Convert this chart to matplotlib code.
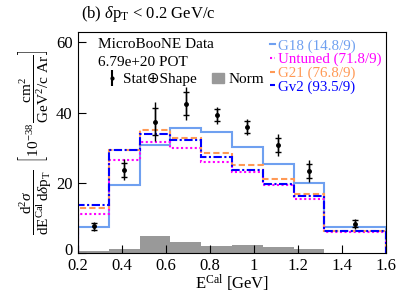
import numpy as np
import matplotlib
matplotlib.use('Agg')
import matplotlib.pyplot as plt
import matplotlib.transforms as mtransforms
from matplotlib.lines import Line2D
from matplotlib.patches import Patch

plt.rcParams['font.family'] = ['Liberation Serif', 'DejaVu Sans']
plt.rcParams['mathtext.fontset'] = 'custom'
plt.rcParams['mathtext.rm'] = 'Liberation Serif'
plt.rcParams['mathtext.it'] = 'Liberation Serif:italic'
plt.rcParams['mathtext.bf'] = 'Liberation Serif:bold'

# bin edges in E^Cal [GeV]
edges = [0.2, 0.34, 0.48, 0.62, 0.76, 0.90, 1.04, 1.18, 1.32, 1.6]

# predictions (10^-38 cm2 / GeV^2/c Ar)
g18 = [7.4, 19.5, 30.8, 35.6, 34.6, 30.3, 25.4, 20.0, 7.3]
untuned = [11.2, 26.4, 31.7, 30.0, 26.0, 23.1, 19.5, 15.5, 5.9]
g21 = [12.9, 29.5, 35.1, 32.9, 28.4, 25.0, 21.1, 16.9, 6.2]
gv2 = [13.8, 29.4, 34.0, 32.1, 27.5, 23.8, 19.7, 16.4, 6.4]

# data
data = [7.6, 23.8, 37.4, 42.5, 39.2, 35.9, 30.8, 23.3, 8.4]
err_tot = [1.4, 3.0, 5.5, 4.7, 2.5, 2.4, 3.1, 3.1, 1.4]
err_stat = [0.9, 2.0, 3.8, 3.3, 1.7, 1.6, 2.0, 2.0, 0.9]

# normalisation uncertainty
norm = [0.5, 1.2, 4.8, 3.3, 2.1, 2.4, 1.8, 1.2, 0.0]

edges = np.array(edges)
centers = 0.5 * (edges[1:] + edges[:-1])

fig = plt.figure(figsize=(4.07, 2.95), dpi=100)
ax = fig.add_axes([0.192, 0.142, 0.756, 0.75])

ax.hist(centers, bins=edges, weights=norm, color='#999999', histtype='stepfilled')

cols = ['#6fa0f0', '#ff00ff', '#ff9955', '#0000ff']
styles = ['-', (0, (1, 1.2)), (0, (3, 1.5)), (0, (4, 1.2, 1, 1.2))]
for vals, c, s in zip([g18, untuned, g21, gv2], cols, styles):
    ax.stairs(vals, edges, color=c, lw=1.5, ls=s)

ax.errorbar(centers, data, yerr=err_tot, fmt='o', color='black', ms=2.5,
            elinewidth=1.0, capsize=0)
ax.errorbar(centers, data, yerr=err_stat, fmt='none', color='black',
            elinewidth=1.0, capsize=2, capthick=1.0)

ax.set_xlim(0.2, 1.6)
ax.set_ylim(0, 63)
ax.set_xticks(np.arange(0.2, 1.61, 0.2))
ax.set_xticklabels(['0.2', '0.4', '0.6', '0.8', '1', '1.2', '1.4', '1.6'])
ax.set_yticks([0, 20, 40, 60])
ax.tick_params(direction='in', length=6, labelsize=12, top=False, right=False)
ax.tick_params(axis='y', pad=4)

# nudge the "0" label up a little so it clears the "0.2" below it
lab0 = ax.get_yticklabels()[0]
lab0.set_transform(lab0.get_transform() +
                   mtransforms.ScaledTranslation(0, 3 / 72, fig.dpi_scale_trans))

ax.set_xlabel(r'E$^{\rm Cal}$ [GeV]', fontsize=12, labelpad=-1)
ax.set_ylabel(r'$\dfrac{\mathrm{d}^2\sigma}{\mathrm{dE}^{\rm Cal}\,\mathrm{d}\delta \mathrm{p}_{\rm T}}$'
              r'  $\left[10^{-38}\,\dfrac{\mathrm{cm}^2}{\mathrm{GeV}^2/\mathrm{c\ Ar}}\right]$',
              fontsize=11, labelpad=2)

fig.text(0.2, 0.94, r'(b) $\delta$p$_{\rm T}$ < 0.2 GeV/c', fontsize=12)

# left legend
ax.text(0.29, 61.3, 'MicroBooNE Data', fontsize=11, va='top')
ax.text(0.29, 56.0, '6.79e+20 POT', fontsize=11, va='top')
h1 = ax.errorbar([], [], yerr=[], fmt='o', color='black', ms=2, capsize=2)
h2 = Patch(color='#999999')
leg1 = ax.legend([h1, h2], ['Stat\u2295Shape', 'Norm'], loc='upper left',
                 bbox_to_anchor=(0.09, 0.815), ncol=2, frameon=False, fontsize=11,
                 handlelength=0.8, handletextpad=0.3, columnspacing=1.0,
                 borderpad=0, borderaxespad=0)
ax.add_artist(leg1)

labels = ['G18 (14.8/9)', 'Untuned (71.8/9)', 'G21 (76.8/9)', 'Gv2 (93.5/9)']
handles = [Line2D([], [], color=c, ls=s, lw=1.5) for c, s in zip(cols, styles)]
leg2 = ax.legend(handles, labels, loc='upper right', bbox_to_anchor=(1.02, 1.015),
                 frameon=False, fontsize=10.8, handlelength=0.3, handletextpad=0.2,
                 labelspacing=0.0, borderpad=0.2, labelcolor=cols)

fig.savefig('out.png', dpi=100)
